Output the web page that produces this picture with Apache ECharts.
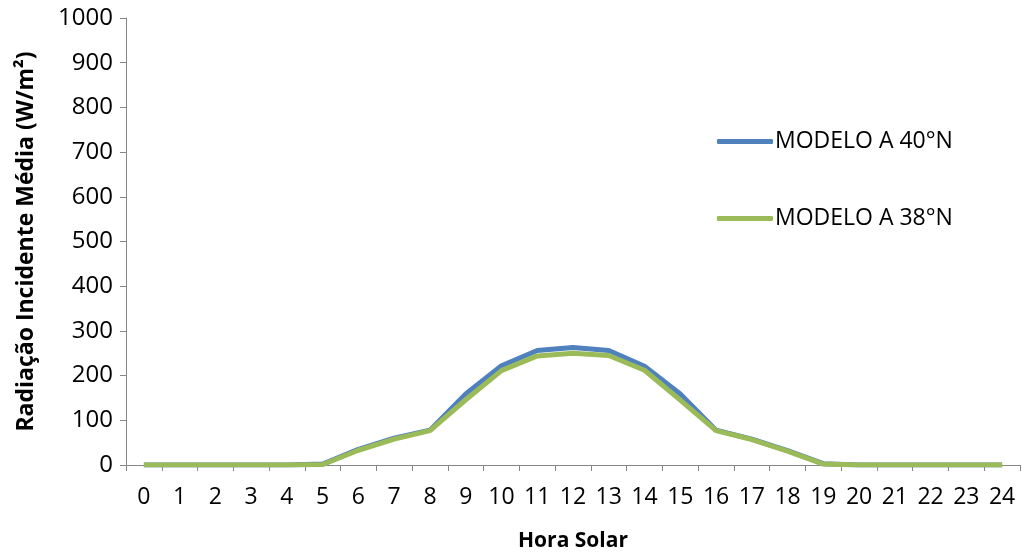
<!DOCTYPE html>
<html><head><meta charset="utf-8">
<script src="https://cdn.jsdelivr.net/npm/echarts@6/dist/echarts.min.js"></script>
<style>html,body{margin:0;padding:0;background:#fff}#c{width:1023px;height:553px}</style>
</head><body><div id="c"></div>
<script>
const hours = ['0','1','2','3','4','5','6','7','8','9','10','11','12','13','14','15','16','17','18','19','20','21','22','23','24'];
const modelo40 = [0,0,0,0,0,2,35,60,78,159,222,256,263,256,221,159,78,58,32,3,0,0,0,0,0];
const modelo38 = [0,0,0,0,0,1,33,58,77,146,211,244,250,245,212,145,77,57,31,2,0,0,0,0,0];
const yTicks = {min:0, max:1000, interval:100};
const font = '"Open Sans", sans-serif';
const chart = echarts.init(document.getElementById('c'));
chart.setOption({
  animation:false,
  textStyle:{fontFamily:font},
  grid:{left:126, right:3, top:18, bottom:88, containLabel:false, outerBoundsMode:'none'},
  legend:{
    orient:'vertical', left:717, top:130, itemGap:54, padding:0,
    itemWidth:56, itemHeight:5, icon:'roundRect',
    textStyle:{fontSize:23, color:'#000', fontFamily:font, padding:[0,0,0,-3]},
    data:['MODELO A 40°N','MODELO A 38°N']
  },
  xAxis:{
    type:'category', data:hours, boundaryGap:true,
    name:'Hora Solar', nameLocation:'middle', nameGap:66,
    nameTextStyle:{fontSize:21, fontWeight:'bold', color:'#000', fontFamily:font},
    axisLine:{lineStyle:{color:'#868686', width:1}},
    axisTick:{show:true, length:6, interval:0, lineStyle:{color:'#868686'}},
    axisLabel:{fontSize:23, color:'#000', margin:21, interval:0}
  },
  yAxis:{
    type:'value', min:yTicks.min, max:yTicks.max, interval:yTicks.interval,
    name:'Radiação Incidente Média (W/m²)', nameLocation:'middle', nameGap:88,
    nameTextStyle:{fontSize:23, fontWeight:'bold', color:'#000', fontFamily:font},
    axisLine:{show:true, lineStyle:{color:'#868686', width:1}},
    axisTick:{show:true, length:6, lineStyle:{color:'#868686'}},
    splitLine:{show:false},
    axisLabel:{fontSize:24, color:'#000', margin:13, formatter:v=>String(v)}
  },
  series:[
    {name:'MODELO A 40°N', type:'line', data:modelo40, symbol:'none',
     lineStyle:{color:'#4F81BD', width:5}, itemStyle:{color:'#4F81BD'}},
    {name:'MODELO A 38°N', type:'line', data:modelo38, symbol:'none',
     lineStyle:{color:'#9BBB59', width:5}, itemStyle:{color:'#9BBB59'}}
  ]
});
</script></body></html>
